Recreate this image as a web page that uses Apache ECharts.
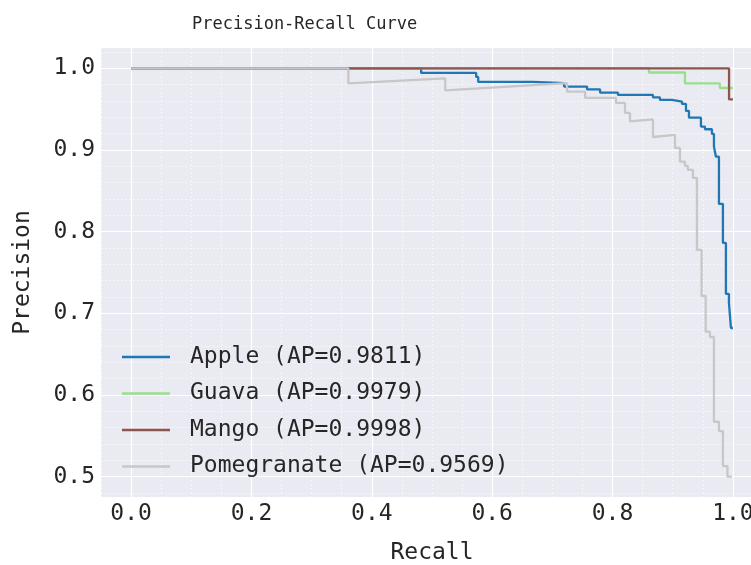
<!DOCTYPE html>
<html>
<head>
<meta charset="utf-8">
<script src="https://cdn.jsdelivr.net/npm/echarts@6/dist/echarts.min.js"></script>
<style>
html,body{margin:0;padding:0;background:#fff;overflow:hidden;}
#chart{width:751px;height:565px;}
</style>
</head>
<body>
<div id="chart"></div>
<script>
// ---- data ----
const classNames = ['Apple', 'Guava', 'Mango', 'Pomegranate'];
const apValues = [0.9811, 0.9979, 0.9998, 0.9569];

const recallApple = [0, 0.482, 0.482, 0.5734, 0.5734, 0.5768, 0.5768, 0.668, 0.668, 0.7195, 0.7195, 0.7577, 0.7577, 0.7793, 0.7793, 0.809, 0.809, 0.8672, 0.8672, 0.8788, 0.8788, 0.8988, 0.8988, 0.9154, 0.9154, 0.922, 0.922, 0.927, 0.927, 0.9469, 0.9469, 0.9535, 0.9535, 0.9651, 0.9651, 0.9685, 0.9685, 0.9718, 0.9718, 0.9768, 0.9768, 0.9834, 0.9834, 0.9884, 0.9884, 0.9934, 0.9934, 0.9967, 0.9967, 1.0];
const precisionApple = [1, 1, 0.9945, 0.9945, 0.9896, 0.9896, 0.9835, 0.9835, 0.9819, 0.9819, 0.9777, 0.9777, 0.9743, 0.9743, 0.9703, 0.9703, 0.9675, 0.9675, 0.9645, 0.9645, 0.9614, 0.9614, 0.9593, 0.9593, 0.9565, 0.9565, 0.9479, 0.9479, 0.9397, 0.9397, 0.9287, 0.9287, 0.9255, 0.9255, 0.9197, 0.9197, 0.9042, 0.9042, 0.8919, 0.8919, 0.834, 0.834, 0.7862, 0.7862, 0.7237, 0.7237, 0.7126, 0.7126, 0.682, 0.682];

const recallGuava = [0, 0.8606, 0.8606, 0.9203, 0.9203, 0.9784, 0.9784, 1.0];
const precisionGuava = [1, 1, 0.995, 0.995, 0.9816, 0.9816, 0.976, 0.976];

const recallMango = [0, 0.9936, 0.9936, 1.0];
const precisionMango = [1, 1, 0.962, 0.962];

const recallPomegranate = [0, 0.361, 0.361, 0.522, 0.522, 0.7244, 0.7244, 0.7544, 0.7544, 0.8058, 0.8058, 0.8207, 0.8207, 0.829, 0.829, 0.8672, 0.8672, 0.9037, 0.9037, 0.912, 0.912, 0.9203, 0.9203, 0.9253, 0.9253, 0.9336, 0.9336, 0.9402, 0.9402, 0.948, 0.948, 0.9547, 0.9547, 0.9618, 0.9618, 0.9685, 0.9685, 0.9768, 0.9768, 0.9834, 0.9834, 0.9909, 0.9909, 0.998];
const precisionPomegranate = [1, 1, 0.9816, 0.9877, 0.973, 0.9819, 0.9716, 0.9716, 0.9638, 0.9638, 0.9577, 0.9577, 0.9455, 0.9455, 0.935, 0.9375, 0.916, 0.9185, 0.9026, 0.9026, 0.8858, 0.8858, 0.8805, 0.8805, 0.8756, 0.8756, 0.8659, 0.8659, 0.7776, 0.7776, 0.7212, 0.7212, 0.6775, 0.6775, 0.671, 0.671, 0.5672, 0.5672, 0.5558, 0.5558, 0.5129, 0.5129, 0.5, 0.5];

const xTickLabels = [0, 0.2, 0.4, 0.6, 0.8, 1.0];
const yTickLabels = [0.5, 0.6, 0.7, 0.8, 0.9, 1.0];
const xMinorTicks = [-0.05, 0, 0.05, 0.1, 0.15, 0.2, 0.25, 0.3, 0.35, 0.4, 0.45, 0.5, 0.55, 0.6, 0.65, 0.7, 0.75, 0.8, 0.85, 0.9, 0.95, 1.0, 1.05];
const yMinorTicks = [0.48, 0.5, 0.52, 0.54, 0.56, 0.58, 0.6, 0.62, 0.64, 0.66, 0.68, 0.7, 0.72, 0.74, 0.76, 0.78, 0.8, 0.82, 0.84, 0.86, 0.88, 0.9, 0.92, 0.94, 0.96, 0.98, 1.0, 1.02];

// ---- chart ----
const FONT = 'DejaVu Sans Mono';
const colors = ['#1f77b4', '#98df8a', '#8c564b', '#c7c7c7'];
const recalls = [recallApple, recallGuava, recallMango, recallPomegranate];
const precisions = [precisionApple, precisionGuava, precisionMango, precisionPomegranate];

const series = classNames.map((n, i) => ({
  name: n + ' (AP=' + apValues[i].toFixed(4) + ')',
  type: 'line',
  xAxisIndex: 0,
  yAxisIndex: 0,
  symbol: 'none',
  silent: true,
  animation: false,
  lineStyle: { color: colors[i], width: 2.3 },
  itemStyle: { color: colors[i] },
  data: recalls[i].map((r, j) => [r, precisions[i][j]])
}));

const X_MIN = -0.05, X_MAX = 1.05;

const chart = echarts.init(document.getElementById('chart'), null, { renderer: 'canvas' });
chart.setOption({
  animation: false,
  backgroundColor: '#ffffff',
  textStyle: { fontFamily: FONT },
  title: {
    text: 'Precision-Recall Curve',
    left: 187,
    top: 11,
    textStyle: { fontFamily: FONT, fontSize: 17, fontWeight: 'normal', color: '#262626' }
  },
  grid: {
    left: 101, top: 48, right: -12, bottom: 68,
    outerBoundsMode: 'none',
    containLabel: false,
    show: true, backgroundColor: '#eaeaf2', borderWidth: 0
  },
  legend: {
    orient: 'vertical',
    left: 117,
    top: 340,
    icon: 'rect',
    itemWidth: 48,
    itemHeight: 2.5,
    itemGap: 12.5,
    textStyle: { fontFamily: FONT, fontSize: 23, lineHeight: 24, color: '#262626', padding: [0, 0, 0, 15] },
    data: series.map(s => s.name)
  },
  xAxis: [
    {
      type: 'value', min: X_MIN, max: X_MAX,
      name: 'Recall', nameLocation: 'middle', nameGap: 45,
      nameTextStyle: { fontFamily: FONT, fontSize: 23, color: '#262626' },
      axisLine: { show: false },
      axisTick: { show: false, customValues: xTickLabels },
      axisLabel: { customValues: xTickLabels, formatter: v => v.toFixed(1), fontFamily: FONT, fontSize: 23, color: '#262626', margin: 6, hideOverlap: false },
      splitLine: { show: true, lineStyle: { color: '#ffffff', width: 1.2 } },
      z: 1
    },
    {
      type: 'value', min: X_MIN, max: X_MAX, position: 'bottom',
      axisLine: { show: false },
      axisTick: { show: false, customValues: xMinorTicks },
      axisLabel: { show: false },
      splitLine: { show: true, lineStyle: { color: '#ffffff', width: 0.8, type: [1.5, 2.5], opacity: 0.9 } },
      z: 0
    }
  ],
  yAxis: [
    {
      type: 'value', min: 0.475, max: 1.025,
      name: 'Precision', nameLocation: 'middle', nameGap: 66,
      nameTextStyle: { fontFamily: FONT, fontSize: 23, color: '#262626' },
      axisLine: { show: false },
      axisTick: { show: false, customValues: yTickLabels },
      axisLabel: { customValues: yTickLabels, formatter: v => v.toFixed(1), fontFamily: FONT, fontSize: 23, color: '#262626', margin: 6 },
      splitLine: { show: true, lineStyle: { color: '#ffffff', width: 1.2 } },
      z: 1
    },
    {
      type: 'value', min: 0.475, max: 1.025, position: 'left',
      axisLine: { show: false },
      axisTick: { show: false, customValues: yMinorTicks },
      axisLabel: { show: false },
      splitLine: { show: true, lineStyle: { color: '#ffffff', width: 0.8, type: [1.5, 2.5], opacity: 0.9 } },
      z: 0
    }
  ],
  series: series
});
</script>
</body>
</html>
